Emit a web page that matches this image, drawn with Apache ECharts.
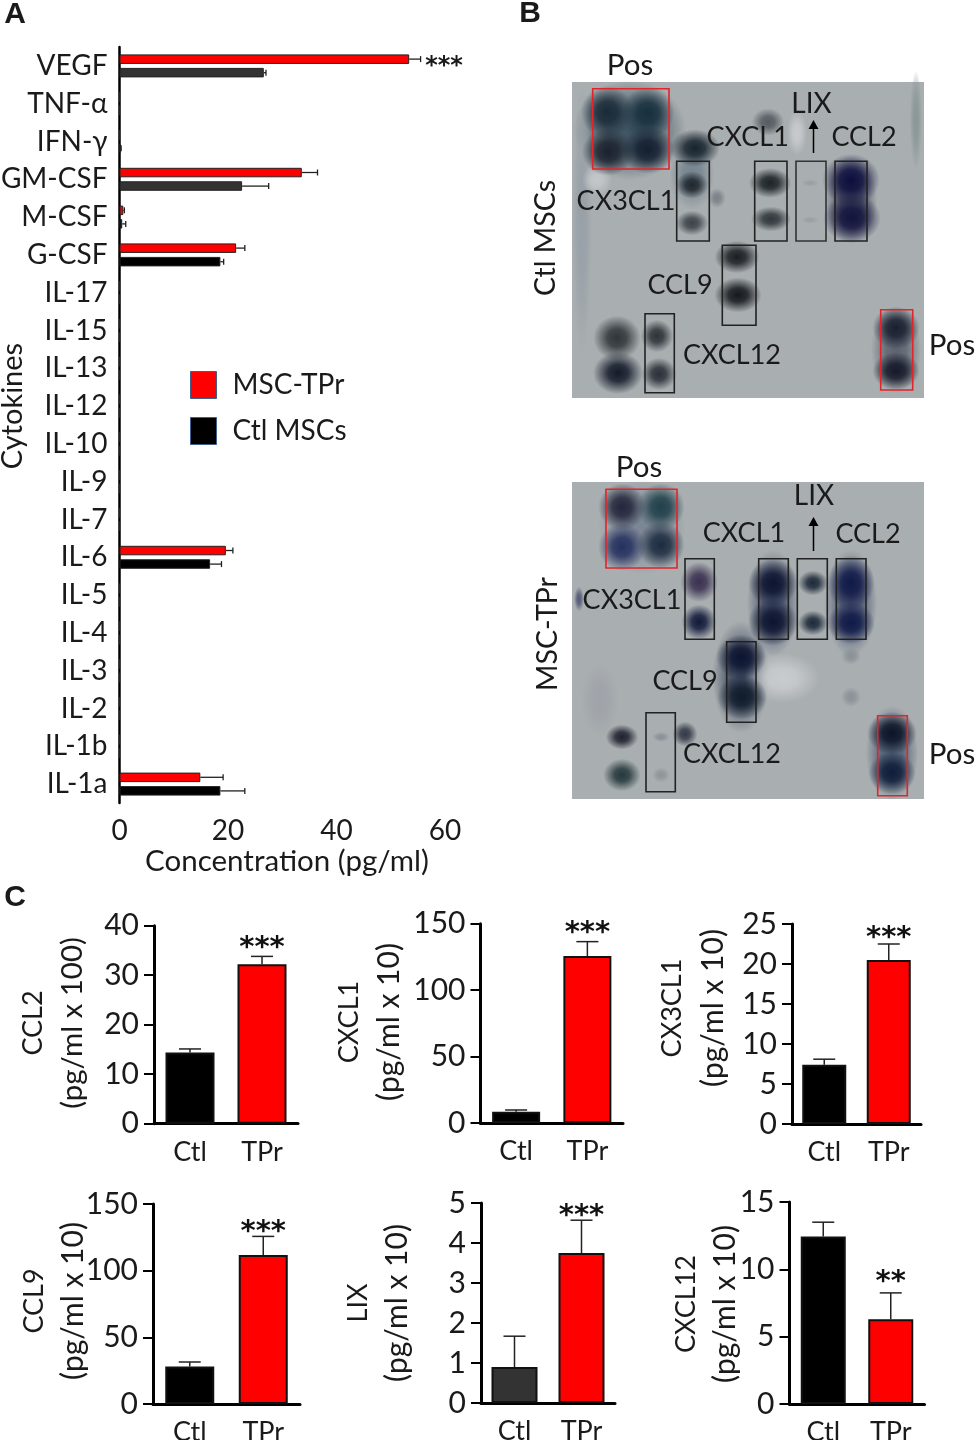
<!DOCTYPE html>
<html>
<head>
<meta charset="utf-8">
<title>Cytokines and chemokines in MSCs</title>
<script src="https://cdn.jsdelivr.net/npm/echarts@6/dist/echarts.min.js"></script>
<style>
  html, body { margin: 0; padding: 0; background: #fff; }
  #main { width: 977px; height: 1440px; }
</style>
</head>
<body>
<div id="main"></div>
<script>
// panel A
var cytokines = ['VEGF','TNF-α','IFN-γ','GM-CSF','M-CSF','G-CSF','IL-17','IL-15','IL-13','IL-12','IL-10','IL-9','IL-7','IL-6','IL-5','IL-4','IL-3','IL-2','IL-1b','IL-1a'];
var tprValues = [53.4,0,0,33.6,0.7,21.5,0,0,0,0,0,0,0,19.6,0,0,0,0,0,14.9];
var tprErrors = [55.5,0,0,36.5,0.9,23.1,0,0,0,0,0,0,0,20.9,0,0,0,0,0,19.1];
var ctlValues = [26.6,0,0.2,22.6,0.5,18.6,0,0,0,0,0,0,0,16.7,0,0,0,0,0,18.6];
var ctlErrors = [27.0,0,0.3,27.5,1.15,19.2,0,0,0,0,0,0,0,18.8,0,0,0,0,0,23.1];

// panel C
var groups = ['Ctl','TPr'];
var ccl2Values = [14.4,32.2],  ccl2Errors = [15.1,33.8];
var cxcl1Values = [8.5,125.6], cxcl1Errors = [9.8,136.5];
var cx3cl1Values = [7.4,20.5], cx3cl1Errors = [8.1,22.5];
var ccl9Values = [28.2,111.7], ccl9Errors = [31.5,125.7];
var lixValues = [0.9,3.75],    lixErrors = [1.67,4.57];
var cxcl12Values = [12.44,6.3],cxcl12Errors = [13.5,8.25];

// panel B, read in image pixels: x, y, width, height, colour
var ctlSpots = [
  [630,130,90,80,'#3d5361'],[692,175,36,56,'#74848f'],[851,200,42,70,'#4d5266'],[896,350,40,70,'#5d6270'],
  [582,220,16,220,'#98a1a8'],[916,120,10,80,'#8a9696'],[597,180,24,24,'#c4c7c9'],[797,133,16,36,'#c8cbcd'],
  [607,112,42,42,'#1a2a38'],[648,113,42,42,'#18303e'],[608,152,42,38,'#1a222e'],[648,150,42,38,'#141f30'],
  [695,148,40,30,'#18242e'],[768,122,26,22,'#555b60'],[692,185,26,22,'#20282f'],[692,223,26,20,'#3c434a'],
  [717,198,14,16,'#7b8388'],[770,183,34,24,'#1d2228'],[771,219,32,20,'#32373d'],[810,183,14,6,'#9a9fa3'],
  [810,220,14,6,'#9a9fa3'],[851,180,46,42,'#0e0e3e'],[852,218,46,40,'#13133d'],[737,257,36,26,'#1b1f24'],
  [738,295,38,28,'#15191e'],[657,336,26,26,'#2e3339'],[659,374,28,26,'#2b3039'],[617,338,38,36,'#30353a'],
  [618,373,40,34,'#141a2a'],[896,328,38,34,'#1a2030'],[896,371,38,30,'#15192a']
];
var ctlBoxes = [
  [592.7,88.7,669,169,'#e0252b'],[676.7,161.3,709.3,241,'#222'],[754.7,161.3,787,241,'#222'],[796,161.3,826,241,'#333'],
  [835,161.3,867,241,'#222'],[722.3,245.3,756,325.3,'#222'],[645,313.7,674.3,392.7,'#222'],[880.7,309.7,912.7,390,'#e0252b']
];
var ctlLabels = [
  ['Pos',630,64],['LIX',811.5,103],['CXCL1',747.7,136],['CCL2',864,136],['CX3CL1',626,200],
  ['CCL9',680,284],['CXCL12',732,354],['Pos',952,344]
];
var tprSpots = [
  [642,527,70,76,'#7b8694'],[741,677,46,90,'#3f4a60'],[773,603,42,86,'#4c5670'],[851,603,42,86,'#4c5670'],[892,753,42,76,'#4a5a70'],
  [782,678,60,40,'#c9ccce'],[579,599,8,20,'#555b77'],[600,700,30,60,'#a0a4aa'],
  [622,507,38,38,'#23263c'],[661,507,38,38,'#20404a'],[622,547,38,38,'#25305f'],[661,545,38,38,'#1c2c40'],
  [699,582,30,32,'#3a3050'],[699,622,28,28,'#121a3a'],[773,583,40,38,'#0c1430'],[773,622,40,38,'#0c1430'],
  [813,583,24,20,'#1e2a3a'],[813,623,24,20,'#1e2a3a'],[851,583,38,44,'#101a48'],[851,623,38,34,'#101a48'],
  [741,657,40,36,'#0c1430'],[742,697,40,36,'#101c2c'],[661,737,14,8,'#8c8f9a'],[661,775,14,12,'#90959a'],
  [622,737,26,20,'#20222f'],[622,775,30,26,'#26383c'],[685,734,20,20,'#353a48'],[892,733,40,34,'#0c1428'],
  [892,773,38,34,'#0f1d3a'],[851,656,16,14,'#8a9298'],[851,697,16,16,'#8d9198']
];
var tprBoxes = [
  [606,489.3,677,568,'#e0252b'],[685,558.7,714.3,639.3,'#222'],[758.7,558.7,788.3,639.3,'#222'],[797.3,558.7,827.3,639.3,'#222'],
  [836.3,558.7,866,639.3,'#222'],[726.7,641.7,756,722.3,'#222'],[646,712.7,675.3,791.7,'#222'],[877.7,715.7,907.3,795.7,'#e0252b']
];
var tprLabels = [
  ['Pos',639,466],['LIX',814,495],['CXCL1',744,532],['CCL2',868,533],['CX3CL1',632,599],
  ['CCL9',685,680],['CXCL12',732,753],['Pos',952,753]
];

var FONT = 'Lato, "Open Sans", sans-serif';
var chart = echarts.init(document.getElementById('main'), null, {renderer: 'canvas'});
var grids = [], xAxes = [], yAxes = [], series = [], texts = [];

function addText(text, x, y, size, rotated, fontFamily, weight) {
  texts.push({
    type: 'text', x: x, y: y + 1, rotation: rotated ? Math.PI / 2 : 0, z: 20, silent: true,
    style: {
      text: text, x: 0, y: 0, align: 'center', verticalAlign: 'middle',
      fontFamily: fontFamily || FONT, fontWeight: weight || 'normal', fontSize: size, fill: '#1a1a1a'
    }
  });
}

// panel A
grids.push({left: 119.5, top: 47, width: 325.5, height: 756, outerBoundsMode: 'none'});
xAxes.push({
  type: 'value', gridIndex: 0, min: 0, max: 60, interval: 20, splitLine: {show: false},
  axisLine: {lineStyle: {color: '#000', width: 2.5}},
  axisTick: {length: 6, lineStyle: {color: '#000', width: 2}},
  axisLabel: {fontFamily: FONT, fontSize: 28, color: '#1a1a1a', margin: 14}
});
yAxes.push({
  type: 'category', gridIndex: 0, data: cytokines, inverse: true,
  axisLine: {onZero: false, lineStyle: {color: '#000', width: 2.5}},
  axisTick: {alignWithLabel: true, length: 6, lineStyle: {color: '#000', width: 2}},
  axisLabel: {fontFamily: FONT, fontSize: 28, color: '#1a1a1a', margin: 12, interval: 0, padding: [2, 0, 0, 0]}
});
var darkRows = {0: 1, 3: 1};
series.push({
  name: 'MSC-TPr', type: 'bar', xAxisIndex: 0, yAxisIndex: 0, data: tprValues, barWidth: 9.5, barGap: '42%',
  itemStyle: {color: '#ff0000', borderColor: '#222', borderWidth: 1}
});
series.push({
  name: 'Ctl MSCs', type: 'bar', xAxisIndex: 0, yAxisIndex: 0, barWidth: 9.5,
  data: ctlValues.map(function (v, i) { return {value: v, itemStyle: {color: darkRows[i] ? '#333' : '#000'}}; }),
  itemStyle: {color: '#000', borderColor: '#222', borderWidth: 1}
});

function hWhisker(values, errors, dy) {
  var data = [];
  errors.forEach(function (e, i) { if (e > 0) data.push([values[i], i, e]); });
  series.push({
    type: 'custom', xAxisIndex: 0, yAxisIndex: 0, data: data, z: 5, silent: true,
    renderItem: function (params, api) {
      var a = api.coord([api.value(0), api.value(1)]);
      var b = api.coord([api.value(2), api.value(1)]);
      var st = {stroke: '#222', lineWidth: 1.3};
      return {type: 'group', children: [
        {type: 'line', shape: {x1: a[0], y1: a[1] + dy, x2: b[0], y2: b[1] + dy}, style: st},
        {type: 'line', shape: {x1: b[0], y1: b[1] + dy - 3, x2: b[0], y2: b[1] + dy + 3}, style: st}
      ]};
    }
  });
}
hWhisker(tprValues, tprErrors, -6.8);
hWhisker(ctlValues, ctlErrors, 6.8);
addText('***', 444, 66, 24, false, 'DejaVu Sans', 'bold');
addText('Cytokines', 13, 405, 29, true);
addText('Concentration (pg/ml)', 287, 860, 29.5, false);

// panel C
var barPanels = [
  {values: ccl2Values, errors: ccl2Errors, left: 154, right: 298, top: 925.7, bottom: 1123.7, max: 40, step: 10, bar: 49, stars: '***', gap: 12, name: 'CCL2', unit: '(pg/ml x 100)', nx: 33, ux: 73, ny: 1022},
  {values: cxcl1Values, errors: cxcl1Errors, left: 480.5, right: 623, top: 923.7, bottom: 1123, max: 150, step: 50, bar: 48, stars: '***', gap: 12, name: 'CXCL1', unit: '(pg/ml x 10)', nx: 349, ux: 389, ny: 1021},
  {values: cx3cl1Values, errors: cx3cl1Errors, left: 792, right: 921, top: 924, bottom: 1124, max: 25, step: 5, bar: 44, stars: '***', gap: 10, name: 'CX3CL1', unit: '(pg/ml x 10)', nx: 672, ux: 713, ny: 1007},
  {values: ccl9Values, errors: ccl9Errors, left: 153, right: 300, top: 1204, bottom: 1404, max: 150, step: 50, bar: 49, stars: '***', gap: 8, name: 'CCL9', unit: '(pg/ml x 10)', nx: 34, ux: 73, ny: 1300},
  {values: lixValues, errors: lixErrors, left: 481, right: 615, top: 1203, bottom: 1403, max: 5, step: 1, bar: 46, stars: '***', gap: 8, name: 'LIX', unit: '(pg/ml x 10)', nx: 358, ux: 397, ny: 1302, ctlColor: '#333'},
  {values: cxcl12Values, errors: cxcl12Errors, left: 789.5, right: 924.5, top: 1202, bottom: 1404, max: 15, step: 5, bar: 45, stars: '**', gap: 14, name: 'CXCL12', unit: '(pg/ml x 10)', nx: 686, ux: 725, ny: 1303}
];
barPanels.forEach(function (p) {
  var g = grids.length;
  grids.push({left: p.left, top: p.top, width: p.right - p.left, height: p.bottom - p.top, outerBoundsMode: 'none'});
  xAxes.push({
    type: 'category', gridIndex: g, data: groups,
    axisLine: {lineStyle: {color: '#000', width: 3}},
    axisTick: {alignWithLabel: true, length: 6, lineStyle: {color: '#000', width: 2}},
    axisLabel: {fontFamily: FONT, fontSize: 27, color: '#1a1a1a', margin: 15, interval: 0}
  });
  yAxes.push({
    type: 'value', gridIndex: g, min: 0, max: p.max, interval: p.step, splitLine: {show: false},
    axisLine: {show: true, lineStyle: {color: '#000', width: 3}},
    axisTick: {show: true, length: 10, lineStyle: {color: '#000', width: 2}},
    axisLabel: {fontFamily: FONT, fontSize: 30, color: '#1a1a1a', margin: 15, padding: [4, 0, 0, 0]}
  });
  series.push({
    type: 'bar', xAxisIndex: g, yAxisIndex: g, barWidth: p.bar,
    data: [
      {value: p.values[0], itemStyle: {color: p.ctlColor || '#000', borderColor: '#111', borderWidth: 2}},
      {value: p.values[1], itemStyle: {color: '#ff0000', borderColor: '#111', borderWidth: 2}}
    ]
  });
  series.push({
    type: 'custom', xAxisIndex: g, yAxisIndex: g, z: 1, silent: true,
    data: p.values.map(function (v, i) { return [i, v, p.errors[i]]; }),
    renderItem: function (params, api) {
      var a = api.coord([api.value(0), api.value(1)]);
      var b = api.coord([api.value(0), api.value(2)]);
      var st = {stroke: '#222', lineWidth: 1.5};
      var kids = [
        {type: 'line', shape: {x1: a[0], y1: a[1], x2: b[0], y2: b[1]}, style: st},
        {type: 'line', shape: {x1: b[0] - 11, y1: b[1], x2: b[0] + 11, y2: b[1]}, style: st}
      ];
      if (api.value(0) === 1) {
        kids.push({type: 'text', x: b[0], y: b[1] - p.gap + 4, style: {
          text: p.stars, align: 'center', verticalAlign: 'middle',
          fontFamily: 'DejaVu Sans', fontWeight: 'bold', fontSize: 29, fill: '#111'
        }});
      }
      return {type: 'group', children: kids};
    }
  });
  addText(p.name, p.nx, p.ny, 27, true);
  addText(p.unit, p.ux, p.ny, p.unit.indexOf('100') > 0 ? 29.4 : 30, true);
});

// panel B
function addBlot(spots, boxes, labels, top, bottom, arrowTop, arrowBottom) {
  var g = grids.length;
  grids.push({left: 572, top: top, width: 352, height: bottom - top, show: true, backgroundColor: '#a9aeb0', borderWidth: 0, outerBoundsMode: 'none'});
  xAxes.push({type: 'value', gridIndex: g, min: 572, max: 924, show: false});
  yAxes.push({type: 'value', gridIndex: g, min: top, max: bottom, inverse: true, show: false});
  series.push({
    type: 'scatter', xAxisIndex: g, yAxisIndex: g, silent: true, z: 2, clip: true,
    data: spots.map(function (s) {
      var rgb = echarts.color.parse(s[4]);
      var c = 'rgba(' + rgb[0] + ',' + rgb[1] + ',' + rgb[2] + ',';
      return {
        value: [s[0], s[1]], symbol: 'circle', symbolSize: [s[2] * 1.25, s[3] * 1.25],
        itemStyle: {opacity: 1, color: new echarts.graphic.RadialGradient(0.5, 0.5, 0.5, [
          {offset: 0, color: c + '1)'}, {offset: 0.4, color: c + '0.85)'}, {offset: 1, color: c + '0)'}
        ])}
      };
    })
  });
  series.push({
    type: 'custom', xAxisIndex: g, yAxisIndex: g, data: boxes, z: 3, silent: true,
    encode: {x: [0, 2], y: [1, 3]},
    renderItem: function (params, api) {
      var a = api.coord([api.value(0), api.value(1)]);
      var b = api.coord([api.value(2), api.value(3)]);
      return {type: 'rect', shape: {x: a[0], y: a[1], width: b[0] - a[0], height: b[1] - a[1]},
        style: {fill: 'none', stroke: boxes[params.dataIndex][4], lineWidth: 1.6}};
    }
  });
  series.push({
    type: 'custom', xAxisIndex: g, yAxisIndex: g, z: 4, silent: true,
    data: labels.map(function (l) { return [l[1], l[2] + 1]; }),
    renderItem: function (params, api) {
      var a = api.coord([api.value(0), api.value(1)]);
      var name = labels[params.dataIndex][0];
      return {type: 'text', x: a[0], y: a[1], style: {
        text: name, align: 'center', verticalAlign: 'middle',
        fontFamily: FONT, fontSize: name === 'Pos' ? 29.5 : (name === 'LIX' ? 28 : 27), fill: '#1a1a1a'
      }};
    }
  });
  series.push({
    type: 'custom', xAxisIndex: g, yAxisIndex: g, z: 4, silent: true, data: [[813.5, arrowTop, arrowBottom]],
    renderItem: function (params, api) {
      var a = api.coord([api.value(0), api.value(1)]);
      var b = api.coord([api.value(0), api.value(2)]);
      return {type: 'group', children: [
        {type: 'line', shape: {x1: a[0], y1: a[1] + 6, x2: b[0], y2: b[1]}, style: {stroke: '#000', lineWidth: 1.5}},
        {type: 'polygon', shape: {points: [[a[0], a[1]], [a[0] + 5, a[1] + 9], [a[0] - 5, a[1] + 9]]}, style: {fill: '#000'}}
      ]};
    }
  });
}
addBlot(ctlSpots, ctlBoxes, ctlLabels, 82, 398, 120, 153);
addBlot(tprSpots, tprBoxes, tprLabels, 482, 799, 517, 551);
addText('Ctl MSCs', 546, 237, 28.5, true);
addText('MSC-TPr', 548, 633, 28.5, true);

addText('A', 15, 14, 30, false, 'Liberation Sans', 'bold');
addText('B', 530, 13, 30, false, 'Liberation Sans', 'bold');
addText('C', 15, 897, 30, false, 'Liberation Sans', 'bold');

chart.setOption({
  animation: false,
  backgroundColor: '#fff',
  grid: grids,
  xAxis: xAxes,
  yAxis: yAxes,
  legend: {
    data: ['MSC-TPr', 'Ctl MSCs'], orient: 'vertical', left: 190, top: 371, padding: 0,
    itemWidth: 26, itemHeight: 27, itemGap: 18, selectedMode: false, icon: 'rect',
    itemStyle: {borderColor: '#3f5f8f', borderWidth: 1},
    textStyle: {fontFamily: FONT, fontSize: 28, color: '#1a1a1a', padding: [0, 0, 0, 11]}
  },
  series: series,
  graphic: texts
});
</script>
</body>
</html>
